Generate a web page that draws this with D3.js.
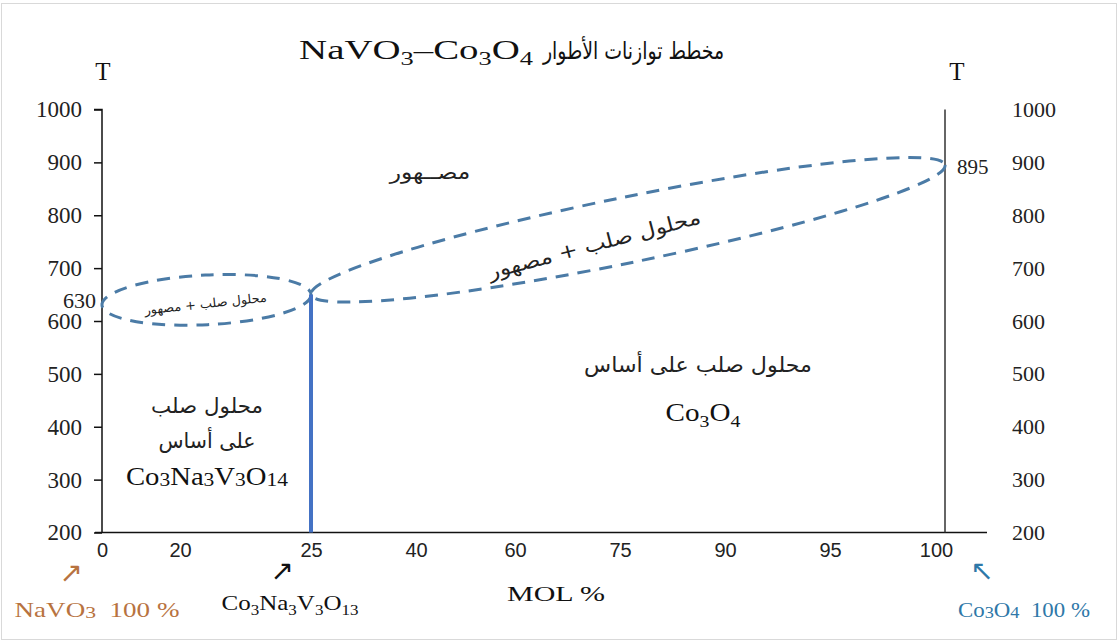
<!DOCTYPE html>
<html>
<head>
<meta charset="utf-8">
<script src="https://cdn.jsdelivr.net/npm/d3@7/dist/d3.min.js"></script>
<style>
  html, body { margin: 0; padding: 0; background: #fff; }
  svg { display: block; }
</style>
</head>
<body>
<svg id="chart" width="1118" height="642"></svg>
<script>
// ---------------- DATA ----------------
const xTicks = [0, 20, 25, 40, 60, 75, 90, 95, 100];          // MOL % tick labels
const yTicks = [200, 300, 400, 500, 600, 700, 800, 900, 1000]; // temperature ticks
const eutecticLine = [[25, 200], [25, 650]];                   // Co3Na3V3O13 compound line
const pureCo3O4Line = [[100, 200], [100, 1000]];               // right edge line
const smallLoop = [[0, 630], [25, 650]];                       // liquid + solid solution (left)
const smallLoopHalfT = 47;
const bigLoop = [[25, 650], [100, 895]];                       // liquid + solid solution (right)
const bigLoopHalfT = 62;
const pointLabels = [["630", 0, 630], ["895", 100, 895]];

// ---------------- LAYOUT ----------------
const svg = d3.select("#chart");
const W = 1118, H = 642;
const xRange = [102, 180, 311, 416, 515, 620, 725, 830, 945];
const x = d3.scaleLinear().domain(xTicks).range(xRange);
const y = d3.scaleLinear().domain([200, 1000]).range([532.5, 109.5]);

const SERIF = "'Liberation Serif', 'Times New Roman', serif";
const SANS = "'Liberation Sans', Arial, sans-serif";
const ARAB = "'DejaVu Sans', 'Noto Sans', sans-serif";
const loopColor = "#4b7ba6";

svg.append("rect").attr("x", 1.5).attr("y", 3.5).attr("width", W - 3).attr("height", H - 6)
  .attr("fill", "none").attr("stroke", "#d9d9d9").attr("stroke-width", 1);

// place a text at (px,py), optionally rotated, stretched horizontally to a target width
function place(t, px, py, targetW, rot) {
  t.attr("x", 0).attr("y", 0);
  let sx = 1;
  if (targetW) {
    const w = t.node().getBBox().width;
    if (w > 0) sx = targetW / w;
  }
  t.attr("transform", `translate(${px},${py}) rotate(${rot || 0}) scale(${sx},1)`);
  return t;
}

// chemical formula with subscripts; "_" marks following digits as small
function formula(px, py, str, size, opts = {}) {
  const t = svg.append("text")
    .attr("font-family", opts.family || SERIF).attr("font-size", size)
    .attr("fill", opts.color || "#111").attr("text-anchor", opts.anchor || "middle")
    .attr("xml:space", "preserve");
  const drop = opts.drop == null ? 0.22 : opts.drop;
  const parts = str.split(/_(\d+)/);
  let shifted = 0;
  parts.forEach((p, i) => {
    if (!p) return;
    const isSub = i % 2 === 1;
    const ts = t.append("tspan").text(p);
    if (isSub) {
      ts.attr("font-size", size * (opts.subScale || 0.68));
      const d = size * drop - shifted;
      if (d) ts.attr("dy", d);
      shifted = size * drop;
    } else {
      if (shifted) ts.attr("dy", -shifted);
      shifted = 0;
    }
  });
  return place(t, px, py, opts.len, opts.rotate);
}
function label(px, py, str, size, family, opts = {}) {
  const t = svg.append("text")
    .attr("text-anchor", opts.anchor || "middle").attr("font-family", family)
    .attr("font-size", size).attr("fill", opts.color || "#222").text(str);
  return place(t, px, py, opts.len, opts.rotate);
}

// ---------------- AXES ----------------
svg.append("line").attr("x1", 95).attr("x2", 987).attr("y1", y(200)).attr("y2", y(200))
  .attr("stroke", "#111").attr("stroke-width", 1.5);

const xAxis = svg.append("g").attr("transform", `translate(0,${y(200)})`)
  .call(d3.axisBottom(x).tickValues(xTicks).tickSize(0).tickPadding(10).tickFormat(d3.format("d")));
xAxis.select(".domain").remove();
xAxis.selectAll("text").attr("font-family", SANS).attr("font-size", 20).attr("fill", "#222")
  .attr("dx", d => d === 100 ? -9 : 0);

const yAxisL = svg.append("g").attr("transform", `translate(${x(0)},0)`)
  .call(d3.axisLeft(y).tickValues(yTicks).tickSize(8).tickPadding(12).tickFormat(d3.format("d")));
yAxisL.select(".domain").attr("stroke", "#111").attr("stroke-width", 1.5).attr("d", `M-8,${y(1000)}H0V${y(200)}`);
yAxisL.selectAll(".tick line").attr("stroke", "#111").attr("stroke-width", 1.5);
yAxisL.selectAll("text").attr("font-family", SERIF).attr("font-size", 23).attr("fill", "#222");

const yAxisR = svg.append("g").attr("transform", `translate(1000,0)`)
  .call(d3.axisRight(y).tickValues(yTicks).tickSize(0).tickPadding(12).tickFormat(d3.format("d")));
yAxisR.select(".domain").remove();
yAxisR.selectAll("text").attr("font-family", SERIF).attr("font-size", 22).attr("fill", "#222");

svg.append("line")
  .attr("x1", x(pureCo3O4Line[0][0])).attr("x2", x(pureCo3O4Line[1][0]))
  .attr("y1", y(pureCo3O4Line[0][1])).attr("y2", y(pureCo3O4Line[1][1]))
  .attr("stroke", "#333").attr("stroke-width", 1.5);

// ---------------- LOOPS ----------------
function loop(ends, halfT, width) {
  const [a, b] = ends;
  const p1 = [x(a[0]), y(a[1])], p2 = [x(b[0]), y(b[1])];
  const cx = (p1[0] + p2[0]) / 2, cy = (p1[1] + p2[1]) / 2;
  const rx = Math.hypot(p2[0] - p1[0], p2[1] - p1[1]) / 2;
  const ry = y(200) - y(200 + halfT);
  const ang = Math.atan2(p2[1] - p1[1], p2[0] - p1[0]) * 180 / Math.PI;
  svg.append("ellipse").attr("cx", cx).attr("cy", cy).attr("rx", rx).attr("ry", ry)
    .attr("transform", `rotate(${ang},${cx},${cy})`)
    .attr("fill", "none").attr("stroke", loopColor).attr("stroke-width", width)
    .attr("stroke-dasharray", "13,9");
}
loop(smallLoop, smallLoopHalfT, 3);
loop(bigLoop, bigLoopHalfT, 3);

svg.append("line")
  .attr("x1", x(eutecticLine[0][0])).attr("x2", x(eutecticLine[1][0]))
  .attr("y1", y(eutecticLine[0][1])).attr("y2", y(eutecticLine[1][1]))
  .attr("stroke", "#4472c4").attr("stroke-width", 4);

// point labels
label(x(0) - 6, y(630) + 3, pointLabels[0][0], 22, SERIF, { anchor: "end" });
label(x(100) + 12, y(895) + 9, pointLabels[1][0], 21, SERIF, { anchor: "start" });

// ---------------- TEXTS ----------------
label(103, 80, "T", 25, SERIF, { color: "#111" });
label(957, 80, "T", 25, SERIF, { color: "#111" });

// title
formula(533, 59, "NaVO_3–Co_3O_4", 27, { anchor: "end", len: 234 });
label(543, 59, "مخطط توازنات الأطوار", 24, ARAB, { anchor: "start", color: "#111", len: 182 });

// region labels
label(430, 179, "مصــهور", 20, ARAB, { len: 82 });
label(596, 251, "محلول صلب + مصهور", 20, ARAB, { rotate: -14.8, len: 220 });
label(206, 308, "محلول صلب + مصهور", 12.5, ARAB, { rotate: -6, len: 124 });

label(698, 372, "محلول صلب على أساس", 21, ARAB, { len: 228 });
formula(703, 421, "Co_3O_4", 26, { len: 75 });

label(207, 413, "محلول صلب", 21, ARAB, { len: 112 });
label(207, 448, "على أساس", 21, ARAB, { len: 97 });
formula(207, 485, "Co_3Na_3V_3O_14", 25, { drop: 0.05, subScale: 0.75, len: 163 });

// bottom annotations
label(71, 582, "↗", 28, ARAB, { color: "#b8733f" });
formula(97, 617, "NaVO_3  100 %", 21, { color: "#b8733f", drop: 0.03, subScale: 0.8, len: 165 });

label(282, 580, "↗", 28, ARAB, { color: "#111" });
formula(290, 610, "Co_3Na_3V_3O_13", 22, { len: 137 });

label(556, 601, "MOL %", 22, SERIF, { color: "#111", len: 98 });

label(982, 580, "↖", 28, ARAB, { color: "#2f78a8" });
formula(1024, 617, "Co_3O_4  100 %", 20, { color: "#2f78a8", drop: 0.03, subScale: 0.8, len: 132 });
</script>
</body>
</html>
